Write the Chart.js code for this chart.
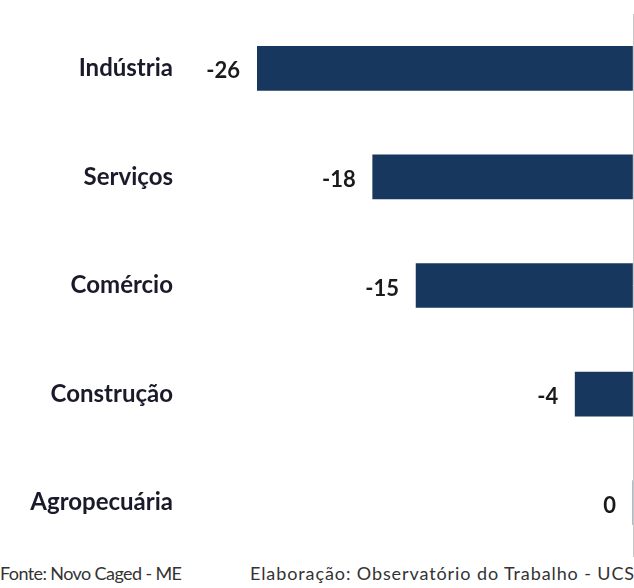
<!DOCTYPE html>
<html>
<head>
<meta charset="utf-8">
<script src="https://cdn.jsdelivr.net/npm/chart.js@4"></script>
<style>
    body { margin: 0; background: #fff; width: 634px; height: 588px; overflow: hidden; position: relative; }
    #myChart_setores { position: absolute; left: 0; top: 0; }
    .rodape { position: absolute; top: 562px; font-family: Lato, sans-serif; font-size: 18px; color: #333; white-space: nowrap; }
</style>
</head>
<body>
<canvas id="myChart_setores" width="634" height="560"></canvas>
<span class="rodape" style="left:0px; letter-spacing:-0.6px">Fonte: Novo Caged - ME</span>
<span class="rodape" style="left:250px; letter-spacing:0.9px">Elaboração: Observatório do Trabalho - UCS</span>

<script>
const setores = ['Indústria', 'Serviços', 'Comércio', 'Construção', 'Agropecuária'];
const saldo = [-26, -18, -15, -4, 0];

const corBarra = '#17375E';

// escreve o valor ao lado esquerdo de cada barra
const rotulos = {
    id: 'rotulos',
    afterDatasetsDraw(chart) {
        const ctx = chart.ctx;
        const meta = chart.getDatasetMeta(0);
        ctx.save();
        ctx.font = 'bold 22px Lato';
        ctx.fillStyle = '#1a1a1a';
        ctx.textAlign = 'right';
        ctx.textBaseline = 'middle';
        meta.data.forEach((barra, i) => {
            ctx.fillText(saldo[i], barra.x - 17, barra.y + 3);
        });
        ctx.restore();
    }
};

function criarGrafico () {
    const ctx = document.getElementById('myChart_setores');

    new Chart(ctx, {
        type: 'bar',
        data: {
            labels: setores,
            datasets: [{
                data: saldo,
                backgroundColor: corBarra,
                borderWidth: 0,
                barThickness: 44
            }]
        },
        plugins: [rotulos],
        options: {
            indexAxis: 'y',
            responsive: false,
            animation: false,
            layout: {
                padding: { top: 14, bottom: 3, right: 1 }
            },
            plugins: {
                legend: { display: false },
                tooltip: { enabled: false }
            },
            scales: {
                x: {
                    min: -26,
                    max: 0,
                    ticks: { display: false, stepSize: 26 },
                    border: { display: false },
                    grid: {
                        drawTicks: false,
                        color: (c) => c.tick && c.tick.value === 0 ? '#c8c8c8' : 'transparent'
                    }
                },
                y: {
                    afterFit: (scale) => {
                        scale.width = 257;
                        // o padding dos rotulos nao deve empurrar a area do grafico
                        scale.paddingTop = 0;
                        scale.paddingBottom = 0;
                    },
                    border: { display: false },
                    grid: { display: false },
                    ticks: {
                        padding: 76,
                        color: '#1a1a2a',
                        font: { family: 'Lato', size: 24, weight: 'bold' }
                    }
                }
            }
        }
    });
}

criarGrafico();
</script>
</body>
</html>
